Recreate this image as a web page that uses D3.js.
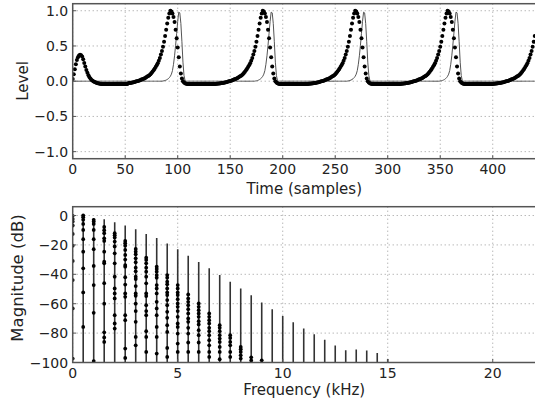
<!DOCTYPE html>
<html>
<head>
<meta charset="utf-8">
<script src="https://cdn.jsdelivr.net/npm/d3@7"></script>
<style>
  body { margin: 0; background: #fff; }
  svg { display: block; font-family: "DejaVu Sans", sans-serif; }
</style>
</head>
<body>
<svg id="chart" width="535" height="400"></svg>
<script>
// ---- top panel: signal level per sample (dots) ----
const levelDots = [
  // t 0-27 start-up bump
  0.03, 0.1, 0.17, 0.24, 0.3, 0.34, 0.365, 0.375, 0.37, 0.35,
  0.31, 0.26, 0.21, 0.16, 0.12, 0.085, 0.055, 0.035, 0.018, 0.005,
  -0.005, -0.013, -0.02, -0.025, -0.03, -0.033, -0.036, -0.038,
  // t 28-52
  -0.04, -0.04, -0.04, -0.04, -0.04, -0.04, -0.04, -0.04, -0.04, -0.04,
  -0.04, -0.04, -0.04, -0.04, -0.04, -0.04, -0.04, -0.04, -0.04, -0.04,
  -0.04, -0.04, -0.04, -0.04, -0.04,
  // t 53-93 rise + peak
  -0.03, -0.027, -0.024, -0.021, -0.018, -0.014, -0.01, -0.006, -0.002, 0.003,
  0.008, 0.014, 0.02, 0.026, 0.033, 0.04, 0.047, 0.055, 0.065, 0.075,
  0.085, 0.1, 0.115, 0.135, 0.155, 0.175, 0.2, 0.225, 0.255, 0.29,
  0.33, 0.38, 0.43, 0.49, 0.56, 0.64, 0.73, 0.82, 0.9, 0.96,
  1.0,
  // t 94-181
  0.99, 0.96, 0.91, 0.84, 0.73, 0.61, 0.48, 0.34, 0.21, 0.11,
  0.04, 0, -0.02, -0.03, -0.035, -0.038,
  -0.04, -0.04, -0.04, -0.04, -0.04, -0.04, -0.04, -0.04, -0.04, -0.04,
  -0.04, -0.04, -0.04, -0.04, -0.04, -0.04, -0.04, -0.04, -0.04, -0.04,
  -0.04, -0.04, -0.04, -0.04, -0.04,
  -0.039, -0.038, -0.037, -0.036, -0.034, -0.032,
  -0.03, -0.027, -0.024, -0.021, -0.018, -0.014, -0.01, -0.006, -0.002, 0.003,
  0.008, 0.014, 0.02, 0.026, 0.033, 0.04, 0.047, 0.055, 0.065, 0.075,
  0.085, 0.1, 0.115, 0.135, 0.155, 0.175, 0.2, 0.225, 0.255, 0.29,
  0.33, 0.38, 0.43, 0.49, 0.56, 0.64, 0.73, 0.82, 0.9, 0.96,
  1.0,
  // t 182-269
  0.99, 0.96, 0.91, 0.84, 0.73, 0.61, 0.48, 0.34, 0.21, 0.11,
  0.04, 0, -0.02, -0.03, -0.035, -0.038,
  -0.04, -0.04, -0.04, -0.04, -0.04, -0.04, -0.04, -0.04, -0.04, -0.04,
  -0.04, -0.04, -0.04, -0.04, -0.04, -0.04, -0.04, -0.04, -0.04, -0.04,
  -0.04, -0.04, -0.04, -0.04, -0.04,
  -0.039, -0.038, -0.037, -0.036, -0.034, -0.032,
  -0.03, -0.027, -0.024, -0.021, -0.018, -0.014, -0.01, -0.006, -0.002, 0.003,
  0.008, 0.014, 0.02, 0.026, 0.033, 0.04, 0.047, 0.055, 0.065, 0.075,
  0.085, 0.1, 0.115, 0.135, 0.155, 0.175, 0.2, 0.225, 0.255, 0.29,
  0.33, 0.38, 0.43, 0.49, 0.56, 0.64, 0.73, 0.82, 0.9, 0.96,
  1.0,
  // t 270-357
  0.99, 0.96, 0.91, 0.84, 0.73, 0.61, 0.48, 0.34, 0.21, 0.11,
  0.04, 0, -0.02, -0.03, -0.035, -0.038,
  -0.04, -0.04, -0.04, -0.04, -0.04, -0.04, -0.04, -0.04, -0.04, -0.04,
  -0.04, -0.04, -0.04, -0.04, -0.04, -0.04, -0.04, -0.04, -0.04, -0.04,
  -0.04, -0.04, -0.04, -0.04, -0.04,
  -0.039, -0.038, -0.037, -0.036, -0.034, -0.032,
  -0.03, -0.027, -0.024, -0.021, -0.018, -0.014, -0.01, -0.006, -0.002, 0.003,
  0.008, 0.014, 0.02, 0.026, 0.033, 0.04, 0.047, 0.055, 0.065, 0.075,
  0.085, 0.1, 0.115, 0.135, 0.155, 0.175, 0.2, 0.225, 0.255, 0.29,
  0.33, 0.38, 0.43, 0.49, 0.56, 0.64, 0.73, 0.82, 0.9, 0.96,
  1.0,
  // t 358-440
  0.99, 0.96, 0.91, 0.84, 0.73, 0.61, 0.48, 0.34, 0.21, 0.11,
  0.04, 0, -0.02, -0.03, -0.035, -0.038,
  -0.04, -0.04, -0.04, -0.04, -0.04, -0.04, -0.04, -0.04, -0.04, -0.04,
  -0.04, -0.04, -0.04, -0.04, -0.04, -0.04, -0.04, -0.04, -0.04, -0.04,
  -0.04, -0.04, -0.04, -0.04, -0.04,
  -0.039, -0.038, -0.037, -0.036, -0.034, -0.032,
  -0.03, -0.027, -0.024, -0.021, -0.018, -0.014, -0.01, -0.006, -0.002, 0.003,
  0.008, 0.014, 0.02, 0.026, 0.033, 0.04, 0.047, 0.055, 0.065, 0.075,
  0.085, 0.1, 0.115, 0.135, 0.155, 0.175, 0.2, 0.225, 0.255, 0.29,
  0.33, 0.38, 0.43, 0.49, 0.56, 0.64
];

// ---- top panel: thin pulse line per sample ----
const pulseLine = [
  // t 0-85
  0,0,0,0,0,0,0,0,0,0, 0,0,0,0,0,0,0,0,0,0, 0,0,0,0,0,0,0,0,0,0, 0,0,0,0,0,0,0,0,0,0,
  0,0,0,0,0,0,0,0,0,0, 0,0,0,0,0,0,0,0,0,0, 0,0,0,0,0,0,0,0,0,0, 0,0,0,0,0,0,0,0,0,0,
  0,0,0,0,0,0,
  // t 86-107
  0.003, 0.006, 0.01, 0.016, 0.024, 0.035, 0.05, 0.07, 0.1, 0.15, 0.24,
  0.36, 0.51, 0.68, 0.85, 0.98, 0.97, 0.82, 0.56, 0.27, 0.08, 0.01,
  // t 108-173
  0,0,0,0,0,0,0,0,0,0, 0,0,0,0,0,0,0,0,0,0, 0,0,0,0,0,0,0,0,0,0,
  0,0,0,0,0,0,0,0,0,0, 0,0,0,0,0,0,0,0,0,0, 0,0,0,0,0,0,0,0,0,0, 0,0,0,0,0,0,
  // t 174-195
  0.003, 0.006, 0.01, 0.016, 0.024, 0.035, 0.05, 0.07, 0.1, 0.15, 0.24,
  0.36, 0.51, 0.68, 0.85, 0.98, 0.97, 0.82, 0.56, 0.27, 0.08, 0.01,
  // t 196-261
  0,0,0,0,0,0,0,0,0,0, 0,0,0,0,0,0,0,0,0,0, 0,0,0,0,0,0,0,0,0,0,
  0,0,0,0,0,0,0,0,0,0, 0,0,0,0,0,0,0,0,0,0, 0,0,0,0,0,0,0,0,0,0, 0,0,0,0,0,0,
  // t 262-283
  0.003, 0.006, 0.01, 0.016, 0.024, 0.035, 0.05, 0.07, 0.1, 0.15, 0.24,
  0.36, 0.51, 0.68, 0.85, 0.98, 0.97, 0.82, 0.56, 0.27, 0.08, 0.01,
  // t 284-349
  0,0,0,0,0,0,0,0,0,0, 0,0,0,0,0,0,0,0,0,0, 0,0,0,0,0,0,0,0,0,0,
  0,0,0,0,0,0,0,0,0,0, 0,0,0,0,0,0,0,0,0,0, 0,0,0,0,0,0,0,0,0,0, 0,0,0,0,0,0,
  // t 350-371
  0.003, 0.006, 0.01, 0.016, 0.024, 0.035, 0.05, 0.07, 0.1, 0.15, 0.24,
  0.36, 0.51, 0.68, 0.85, 0.98, 0.97, 0.82, 0.56, 0.27, 0.08, 0.01,
  // t 372-440
  0,0,0,0,0,0,0,0,0,0, 0,0,0,0,0,0,0,0,0,0, 0,0,0,0,0,0,0,0,0,0,
  0,0,0,0,0,0,0,0,0,0, 0,0,0,0,0,0,0,0,0,0, 0,0,0,0,0,0,0,0,0,0, 0,0,0,0,0,0,0,0,0
];

const timeTicks = [0, 50, 100, 150, 200, 250, 300, 350, 400];
const levelTicks = [-1.0, -0.5, 0.0, 0.5, 1.0];

// ---- bottom panel: harmonic stems (kHz, dB) ----
const harmonicFreqs = [0.5, 1.0, 1.5, 2.0, 2.5, 3.0, 3.5, 4.0, 4.5, 5.0,
  5.5, 6.0, 6.5, 7.0, 7.5, 8.0, 8.5, 9.0, 9.5, 10.0,
  10.5, 11.0, 11.5, 12.0, 12.5, 13.0, 13.5, 14.0, 14.5, 15.0];
const harmonicLevels = [0, -1.8, -2.5, -4.5, -6.8, -9.3, -12.6, -15.3, -19, -23,
  -27.3, -31.7, -35.9, -40.5, -45, -49.6, -54.2, -59.2, -63.7, -68.3,
  -72.6, -76.9, -80.8, -84.6, -88.5, -91.7, -91.2, -91.9, -93.5, -97.6];

// ---- bottom panel: spectrum dots, grouped by frequency ----
const dotFreqs = [0, 0.5, 1.0, 1.5, 2.0, 2.5, 3.0, 3.5, 4.0, 4.5, 5.0, 5.5, 6.0, 6.5, 7.0, 7.5, 8.0, 8.5, 9.0];
const dotLevels = [
  [-0.2, -2.3, -4.1, -6.8, -12.5, -20.5, -30.9, -43.9, -63.2, -97.3],
  [0, -1.2, -2.9, -5.7, -9.8, -16.1, -24.6, -35.9, -52.3, -75.8],
  [-2.9, -4.1, -5.7, -9.8, -16.1, -22.9, -34.3, -47.3, -66.2, -99],
  [-7.8, -10, -12, -15.5, -17.3, -24.6, -31.4, -32.5, -46, -60, -79.5, -83, -86],
  [-12, -13.5, -15, -17.7, -21, -25.7, -32.5, -41.6, -49.6, -53, -56.4, -67.8, -73.4, -76.9],
  [-17.3, -18.8, -20.5, -23.4, -26.8, -30, -33.7, -34.8, -42, -47, -53, -55.3, -67.8, -71.2, -90.5, -96.9],
  [-22.7, -24.6, -26.4, -29.1, -31.8, -35.5, -38, -41.6, -43.2, -48, -53, -54.6, -60, -65, -72.3, -82.6, -88.3],
  [-28.7, -30.2, -32.5, -35.5, -38.2, -41.6, -46.1, -53, -54.8, -61, -65, -67.8, -78.7, -82.6, -92.8],
  [-34.8, -36.4, -38.2, -40.5, -42.3, -47.3, -49.6, -53, -58.7, -63.2, -67.8, -75.8, -82.6, -93.9],
  [-40.5, -42.3, -45, -46.8, -49.6, -52.3, -54.1, -57.5, -61, -65.5, -69.6, -74.6, -79.2, -90.1, -96.2],
  [-47.3, -49.6, -52.3, -54.1, -56.9, -59.8, -62.1, -65, -68.9, -73.4, -75.8, -80.3, -87.1, -92.8],
  [-53.7, -56.4, -58.7, -61, -63.7, -66.6, -70, -72.3, -76.4, -80.3, -86.4, -92.8],
  [-59.8, -62.1, -64.4, -66.6, -68.9, -71.9, -74.1, -78, -81.4, -86.4, -92.8],
  [-66.6, -68.9, -71.2, -73.4, -76.4, -78.7, -81.4, -84.8, -88.3, -92.8, -96.2],
  [-74.6, -76.4, -78.7, -81.4, -83.7, -86, -89.4, -92.8, -97.8],
  [-81.4, -83.3, -86, -88.3, -92.8, -96.2],
  [-89.4, -91, -92.8, -95.1, -97.3],
  [-96.5, -98.6],
  [-98.5]
];

const freqTicks = [0, 5, 10, 15, 20];
const dbTicks = [-100, -80, -60, -40, -20, 0];

const svg = d3.select("#chart");
const MINUS = "\u2212";

function fmtNum(v, digits) {
  return (v < 0 ? MINUS : "") + Math.abs(v).toFixed(digits);
}

// one matplotlib-like axes box: grid, clip, returns scales + plot group
function makePanel(box, xDomain, yDomain, id) {
  const x = d3.scaleLinear().domain(xDomain).range([box.left, box.right]);
  const y = d3.scaleLinear().domain(yDomain).range([box.bottom, box.top]);
  svg.append("clipPath").attr("id", id)
    .append("rect")
      .attr("x", box.left).attr("y", box.top)
      .attr("width", box.right - box.left).attr("height", box.bottom - box.top);
  const grid = svg.append("g");
  const plot = svg.append("g").attr("clip-path", "url(#" + id + ")");
  const frame = svg.append("g");
  return {x, y, box, grid, plot, frame};
}

function decorate(p, opts) {
  const b = p.box;
  p.grid.selectAll("line.gx").data(opts.xTicks).join("line")
      .attr("x1", d => p.x(d)).attr("x2", d => p.x(d))
      .attr("y1", b.top).attr("y2", b.bottom)
      .attr("stroke", "#999").attr("stroke-width", 1)
      .attr("stroke-dasharray", "1,3");
  p.grid.selectAll("line.gy").data(opts.yTicks).join("line")
      .attr("x1", b.left).attr("x2", b.right)
      .attr("y1", d => p.y(d)).attr("y2", d => p.y(d))
      .attr("stroke", "#999").attr("stroke-width", 1)
      .attr("stroke-dasharray", "1,3");

  // short inward ticks
  p.frame.selectAll("line.tx").data(opts.xTicks).join("line")
      .attr("x1", d => p.x(d)).attr("x2", d => p.x(d))
      .attr("y1", b.bottom).attr("y2", b.bottom - 3.5)
      .attr("stroke", "#555");
  p.frame.selectAll("line.ty").data(opts.yTicks).join("line")
      .attr("x1", b.left).attr("x2", b.left + 3.5)
      .attr("y1", d => p.y(d)).attr("y2", d => p.y(d))
      .attr("stroke", "#555");

  p.frame.append("rect")
      .attr("x", b.left).attr("y", b.top)
      .attr("width", b.right - b.left).attr("height", b.bottom - b.top)
      .attr("fill", "none").attr("stroke", "#555").attr("stroke-width", 1.5);

  p.frame.selectAll("text.xl").data(opts.xTicks).join("text")
      .attr("x", d => p.x(d)).attr("y", opts.xTickY)
      .attr("text-anchor", "middle")
      .attr("font-size", 14).attr("fill", "#222")
      .text(opts.fmtX);
  p.frame.selectAll("text.yl").data(opts.yTicks).join("text")
      .attr("x", b.left - 4.5).attr("y", d => p.y(d))
      .attr("dy", "0.36em")
      .attr("text-anchor", "end")
      .attr("font-size", 14).attr("fill", "#222")
      .text(opts.fmtY);

  p.frame.append("text")
      .attr("x", (b.left + b.right) / 2).attr("y", opts.xLabelY)
      .attr("text-anchor", "middle")
      .attr("font-size", 15).attr("fill", "#222")
      .text(opts.xLabel);
  p.frame.append("text")
      .attr("transform", "translate(" + opts.yLabelX + "," + opts.yLabelMid + ") rotate(-90)")
      .attr("text-anchor", "middle")
      .attr("font-size", opts.yLabelSize).attr("fill", "#222")
      .text(opts.yLabel);
}

// ---------------- top: level vs time ----------------
const timePanel = makePanel({left: 72.7, right: 535.8, top: 3.7, bottom: 158.7},
  [0, 441], [-1.1, 1.1], "clipTop");

timePanel.plot.append("path")
    .datum(pulseLine)
    .attr("fill", "none")
    .attr("stroke", "#555")
    .attr("stroke-width", 1)
    .attr("d", d3.line().x((d, i) => timePanel.x(i)).y(d => timePanel.y(d)));

timePanel.plot.selectAll("circle.dot")
  .data(levelDots)
  .join("circle")
    .attr("cx", (d, i) => timePanel.x(i))
    .attr("cy", d => timePanel.y(d))
    .attr("r", 2)
    .attr("fill", "#000");

decorate(timePanel, {
  xTicks: timeTicks, yTicks: levelTicks,
  fmtX: d => String(d), fmtY: d => fmtNum(d, 1),
  xLabel: "Time (samples)", xLabelY: 193.5, xTickY: 173.5,
  yLabel: "Level", yLabelX: 28, yLabelMid: 81, yLabelSize: 15
});

// ---------------- bottom: magnitude vs frequency ----------------
const freqPanel = makePanel({left: 72.7, right: 535.8, top: 206.7, bottom: 362.5},
  [0, 22.05], [-100, 6], "clipBot");

freqPanel.plot.selectAll("line.stem")
  .data(harmonicFreqs)
  .join("line")
    .attr("x1", d => freqPanel.x(d)).attr("x2", d => freqPanel.x(d))
    .attr("y1", freqPanel.y(-100))
    .attr("y2", (d, i) => freqPanel.y(harmonicLevels[i]))
    .attr("stroke", "#333")
    .attr("stroke-width", 1.6);

const spectrumDots = dotFreqs.flatMap((f, i) => dotLevels[i].map(v => ({f, v})));
freqPanel.plot.selectAll("circle.sdot")
  .data(spectrumDots)
  .join("circle")
    .attr("cx", d => freqPanel.x(d.f))
    .attr("cy", d => freqPanel.y(d.v))
    .attr("r", 1.9)
    .attr("fill", "#000");

decorate(freqPanel, {
  xTicks: freqTicks, yTicks: dbTicks,
  fmtX: d => String(d), fmtY: d => fmtNum(d, 0),
  xLabel: "Frequency (kHz)", xLabelY: 394.5, xTickY: 378,
  yLabel: "Magnitude (dB)", yLabelX: 23, yLabelMid: 278, yLabelSize: 16.5
});
</script>
</body>
</html>
